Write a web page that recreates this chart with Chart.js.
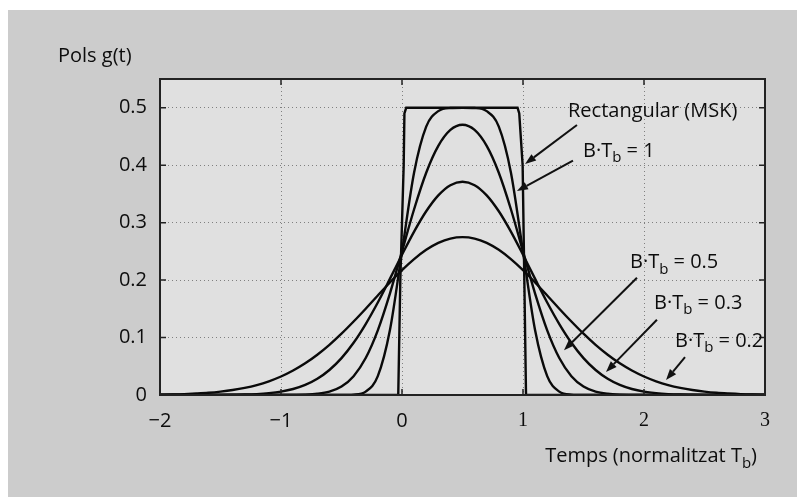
<!DOCTYPE html>
<html>
<head>
<meta charset="utf-8">
<script src="https://cdn.jsdelivr.net/npm/chart.js@4/dist/chart.umd.min.js"></script>
<style>
  html, body { margin: 0; padding: 0; background: #ffffff; }
  #wrap { position: absolute; left: 8px; top: 10px; width: 789px; height: 487px; background: #cccccc; }
</style>
</head>
<body>
<div id="wrap"><canvas id="pulse" width="789" height="487"></canvas></div>
<script>
// Gaussian-filtered pulse shapes g(t) for several B·Tb, plus the MSK rectangle.

const tGrid = [
  -2.0, -1.9, -1.8, -1.7, -1.6, -1.5, -1.4, -1.3, -1.2, -1.1,
  -1.0, -0.9, -0.8, -0.7, -0.6, -0.5, -0.4, -0.3, -0.2, -0.1,
   0.0,  0.1,  0.2,  0.3,  0.4,  0.5,  0.6,  0.7,  0.8,  0.9,
   1.0,  1.1,  1.2,  1.3,  1.4,  1.5,  1.6,  1.7,  1.8,  1.9,
   2.0,  2.1,  2.2,  2.3,  2.4,  2.5,  2.6,  2.7,  2.8,  2.9,
   3.0
];

const g02 = [
  0.0006, 0.0010, 0.0016, 0.0026, 0.0039, 0.0059, 0.0086, 0.0123, 0.0173, 0.0239,
  0.0322, 0.0426, 0.0551, 0.0701, 0.0873, 0.1067, 0.1279, 0.1502, 0.1732, 0.1958,
  0.2172, 0.2364, 0.2526, 0.2647, 0.2723, 0.2748, 0.2723, 0.2647, 0.2526, 0.2364,
  0.2172, 0.1958, 0.1732, 0.1502, 0.1279, 0.1067, 0.0873, 0.0701, 0.0551, 0.0426,
  0.0322, 0.0239, 0.0173, 0.0123, 0.0086, 0.0059, 0.0039, 0.0026, 0.0016, 0.0010,
  0.0006
];

const g03 = [
  0, 0, 0, 0, 0.0001, 0.0002, 0.0004, 0.0008, 0.0016, 0.0032,
  0.0059, 0.0104, 0.0175, 0.0282, 0.0435, 0.0642, 0.0909, 0.1235, 0.1610, 0.2021,
  0.2441, 0.2844, 0.3198, 0.3475, 0.3652, 0.3712, 0.3652, 0.3475, 0.3198, 0.2844,
  0.2441, 0.2021, 0.1610, 0.1235, 0.0909, 0.0642, 0.0435, 0.0282, 0.0175, 0.0104,
  0.0059, 0.0032, 0.0016, 0.0008, 0.0004, 0.0002, 0.0001, 0, 0, 0,
  0
];

const g05 = [
  0, 0, 0, 0, 0, 0, 0, 0, 0, 0,
  0, 0.0002, 0.0006, 0.0021, 0.0059, 0.0148, 0.0328, 0.0644, 0.1126, 0.1765,
  0.2500, 0.3233, 0.3868, 0.4335, 0.4613, 0.4704, 0.4613, 0.4335, 0.3868, 0.3233,
  0.2500, 0.1765, 0.1126, 0.0644, 0.0328, 0.0148, 0.0059, 0.0021, 0.0006, 0.0002,
  0, 0, 0, 0, 0, 0, 0, 0, 0, 0,
  0
];

const g10 = [
  0, 0, 0, 0, 0, 0, 0, 0, 0, 0,
  0, 0, 0, 0, 0, 0, 0.0006, 0.0059, 0.0328, 0.1126,
  0.2500, 0.3874, 0.4672, 0.4941, 0.4994, 0.4998, 0.4994, 0.4941, 0.4672, 0.3874,
  0.2500, 0.1126, 0.0328, 0.0059, 0.0006, 0, 0, 0, 0, 0,
  0, 0, 0, 0, 0, 0, 0, 0, 0, 0,
  0
];

// MSK rectangle as traced (edges lean very slightly)
const rectT = [-2, -0.031, -0.014, 0.014, 0.02, 0.035, 0.955, 0.969, 0.997, 1.011, 1.025, 3];
const rectG = [0, 0, 0.2, 0.4, 0.49, 0.5, 0.5, 0.49, 0.4, 0.2, 0, 0];

const xTicks = [-2, -1, 0, 1, 2, 3];
const yTicks = [0, 0.1, 0.2, 0.3, 0.4, 0.5];

const yTitle = "Pols g(t)";
const xTitle = [["Temps (normalitzat T"], ["b", true], [")"]];

// callouts: text anchor (left, baseline) and arrow tail/tip, all in data units
const callouts = [
  { parts: [["Rectangular (MSK)"]], at: [1.372, 0.483], from: [1.446, 0.470], to: [1.017, 0.402] },
  { parts: [["B·T"], ["b", true], [" = 1"]], at: [1.496, 0.415], from: [1.413, 0.408], to: [0.950, 0.355] },
  { parts: [["B·T"], ["b", true], [" = 0.5"]], at: [1.884, 0.221], from: [1.942, 0.204], to: [1.339, 0.078] },
  { parts: [["B·T"], ["b", true], [" = 0.3"]], at: [2.083, 0.150], from: [2.107, 0.131], to: [1.686, 0.040] },
  { parts: [["B·T"], ["b", true], [" = 0.2"]], at: [2.256, 0.084], from: [2.339, 0.066], to: [2.182, 0.026] }
];

const SANS = '"Open Sans", sans-serif';
const INK = "#0d0d0d";
const FS = 20;

function pts(xs, ys) {
  return xs.map((x, i) => ({ x: x, y: ys[i] }));
}

function partsWidth(ctx, parts, size) {
  let w = 0;
  for (const [txt, sub] of parts) {
    ctx.font = (sub ? Math.round(size * 0.75) : size) + "px " + SANS;
    w += ctx.measureText(txt).width;
  }
  return w;
}

function drawParts(ctx, x, y, parts, size) {
  ctx.textAlign = "left";
  ctx.textBaseline = "alphabetic";
  for (const [txt, sub] of parts) {
    ctx.font = (sub ? Math.round(size * 0.75) : size) + "px " + SANS;
    ctx.fillText(txt, x, sub ? y + size * 0.28 : y);
    x += ctx.measureText(txt).width;
  }
}

function arrow(ctx, x0, y0, x1, y1) {
  const ang = Math.atan2(y1 - y0, x1 - x0);
  const len = 11, half = 4;
  const bx = x1 - len * Math.cos(ang), by = y1 - len * Math.sin(ang);
  ctx.beginPath();
  ctx.moveTo(x0, y0);
  ctx.lineTo(bx, by);
  ctx.stroke();
  ctx.beginPath();
  ctx.moveTo(x1, y1);
  ctx.lineTo(bx + half * Math.sin(ang), by - half * Math.cos(ang));
  ctx.lineTo(bx - half * Math.sin(ang), by + half * Math.cos(ang));
  ctx.closePath();
  ctx.fill();
}

const decor = {
  id: "decor",
  beforeDraw(chart) {
    const { ctx, chartArea: a } = chart;
    ctx.save();
    ctx.fillStyle = "#e0e0e0";
    ctx.fillRect(a.left, a.top, a.right - a.left, a.bottom - a.top);
    ctx.restore();
  },
  afterDraw(chart) {
    const { ctx, chartArea: a } = chart;
    const xs = chart.scales.x, ys = chart.scales.y;
    ctx.save();
    ctx.strokeStyle = "#222";
    ctx.fillStyle = INK;

    // box + inward ticks on all four sides
    ctx.lineWidth = 2;
    ctx.strokeRect(a.left, a.top, a.right - a.left, a.bottom - a.top);
    ctx.lineWidth = 1.5;
    ctx.beginPath();
    xs.ticks.forEach(t => {
      const px = xs.getPixelForValue(t.value);
      ctx.moveTo(px, a.bottom); ctx.lineTo(px, a.bottom - 6);
      ctx.moveTo(px, a.top); ctx.lineTo(px, a.top + 6);
    });
    ys.ticks.forEach(t => {
      const py = ys.getPixelForValue(t.value);
      ctx.moveTo(a.left, py); ctx.lineTo(a.left + 6, py);
      ctx.moveTo(a.right, py); ctx.lineTo(a.right - 6, py);
    });
    ctx.stroke();

    // axis titles
    drawParts(ctx, a.left - 102, a.top - 17, [[yTitle]], FS);
    drawParts(ctx, a.right - 8 - partsWidth(ctx, xTitle, FS), a.bottom + 67, xTitle, FS);

    // callouts
    ctx.lineWidth = 2;
    ctx.strokeStyle = "#111";
    ctx.fillStyle = "#111";
    callouts.forEach(c => {
      arrow(ctx,
        xs.getPixelForValue(c.from[0]), ys.getPixelForValue(c.from[1]),
        xs.getPixelForValue(c.to[0]), ys.getPixelForValue(c.to[1]));
    });
    ctx.fillStyle = INK;
    callouts.forEach(c => {
      drawParts(ctx, xs.getPixelForValue(c.at[0]), ys.getPixelForValue(c.at[1]), c.parts, FS);
    });
    ctx.restore();
  }
};

function curve(data, smooth) {
  return {
    data: data,
    borderColor: "#0a0a0a",
    borderWidth: 2.4,
    pointRadius: 0,
    fill: false,
    tension: 0,
    cubicInterpolationMode: smooth ? "monotone" : "default"
  };
}

function init() {
  const canvas = document.getElementById("pulse");
  new Chart(canvas.getContext("2d"), {
    type: "line",
    data: {
      datasets: [
        curve(pts(rectT, rectG), false),
        curve(pts(tGrid, g10), true),
        curve(pts(tGrid, g05), true),
        curve(pts(tGrid, g03), true),
        curve(pts(tGrid, g02), true)
      ]
    },
    options: {
      responsive: false,
      animation: false,
      layout: { padding: { top: 69, right: 32, left: 0, bottom: 0 } },
      plugins: { legend: { display: false }, tooltip: { enabled: false } },
      scales: {
        x: {
          type: "linear",
          min: -2,
          max: 3,
          afterBuildTicks: s => { s.ticks = xTicks.map(v => ({ value: v })); },
          afterFit: s => { s.height = 102; },
          grid: { color: "#808080", lineWidth: 1, drawTicks: false },
          border: { display: false, dash: [1, 3] },
          ticks: {
            padding: 14,
            color: INK,
            maxRotation: 0,
            font: c => ({ family: c.tick && c.tick.value > 0 ? '"Liberation Serif", serif' : SANS, size: FS }),
            callback: v => (v < 0 ? "\u2212" + Math.abs(v) : String(v))
          }
        },
        y: {
          min: 0,
          max: 0.55,
          afterBuildTicks: s => { s.ticks = yTicks.map(v => ({ value: v })); },
          afterFit: s => { s.width = 152; },
          grid: { color: "#808080", lineWidth: 1, drawTicks: false },
          border: { display: false, dash: [1, 3] },
          ticks: {
            padding: 13,
            color: INK,
            font: { family: SANS, size: FS },
            callback: v => (v === 0 ? "0" : v.toFixed(1))
          }
        }
      }
    },
    plugins: [decor]
  });
}

document.addEventListener("DOMContentLoaded", init);
</script>
</body>
</html>
